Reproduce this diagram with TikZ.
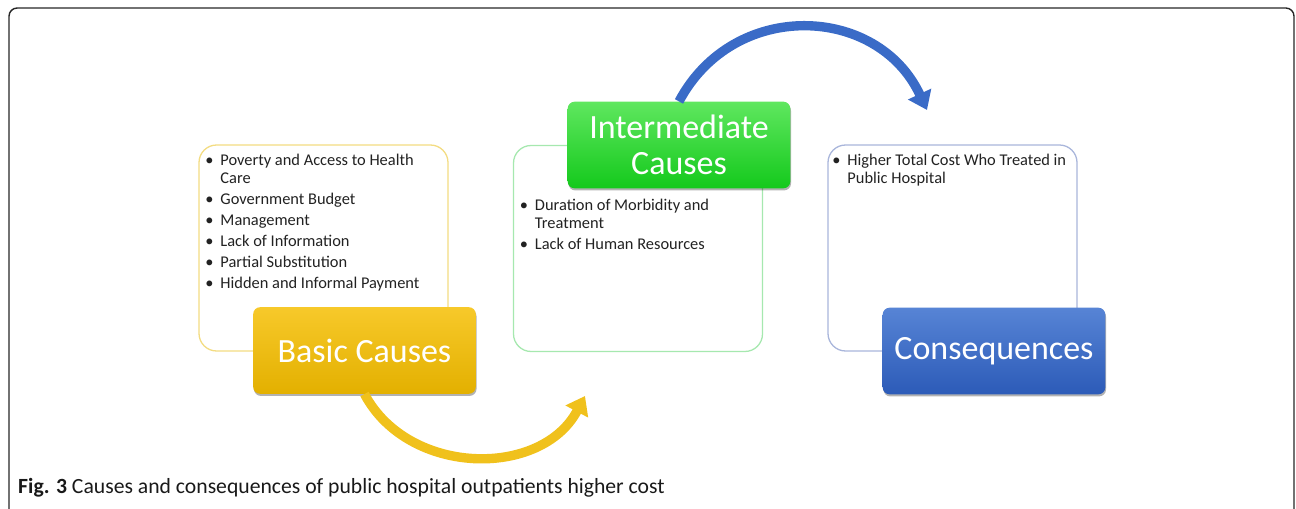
\documentclass[tikz,border=0pt]{standalone}
\usepackage{fontspec}
\setmainfont{Carlito}
\usetikzlibrary{arrows.meta,positioning,shadows}

\definecolor{goldtop}{HTML}{F7C92A}
\definecolor{goldbot}{HTML}{E3B000}
\definecolor{goldline}{HTML}{F3DC82}
\definecolor{greentop}{HTML}{5FE75F}
\definecolor{greenbot}{HTML}{14C91C}
\definecolor{greenline}{HTML}{A6E8AF}
\definecolor{bluetop}{HTML}{5784D5}
\definecolor{bluebot}{HTML}{2C5BB8}
\definecolor{blueline}{HTML}{A9B6DB}
\definecolor{bluearrow}{HTML}{3A6BC7}
\definecolor{goldarrow}{HTML}{F0C11C}
\definecolor{bodytext}{HTML}{222222}

% bullet and hanging indent for the item lists
\newcommand{\itm}{\makebox[13pt][l]{\textbullet}}
\newcommand{\cnt}{\hspace*{13pt}}

\begin{document}
\begin{tikzpicture}[
    panel/.style={draw, line width=1.1pt, rounded corners=15pt, fill=white,
                  minimum width=7.47cm, minimum height=6.18cm},
    title/.style={rounded corners=6pt, text=white, align=center,
                  minimum width=6.68cm, minimum height=2.6cm,
                  font=\fontsize{29}{30.6}\selectfont,
                  drop shadow={shadow xshift=0.6pt, shadow yshift=-1.8pt,
                               opacity=0.3, fill=black}},
    items/.style={anchor=north west, align=left, inner sep=0pt,
                  text=bodytext, font=\fontsize{14}{15.3}\selectfont},
    flow/.style={line width=8pt, -{Triangle[width=21pt,length=15pt]}}
  ]
    \useasboundingbox (0,0) rectangle (38.88,15.27);
    \draw[line width=1.2pt, rounded corners=7pt, black!85] (0.27,15.03) rectangle (38.82,-0.4);

    % content panels
    \node[panel, draw=goldline] (basicbox) at (9.705,7.83) {};
    \node[panel, draw=greenline] (midbox) at (19.14,7.815) {};
    \node[panel, draw=blueline] (conbox) at (28.575,7.83) {};

    \node[items] (basiclist) at ([xshift=0.2cm,yshift=-0.29cm]basicbox.north west)
      {\itm Poverty and Access to Health\\ \cnt Care\\[2.6pt]
       \itm Government Budget\\[2.6pt]
       \itm Management\\[2.6pt]
       \itm Lack of Information\\[2.6pt]
       \itm Partial Substitution\\[2.6pt]
       \itm Hidden and Informal Payment};
    \node[items] (midlist) at ([xshift=0.2cm,yshift=-1.62cm]midbox.north west)
      {\itm Duration of Morbidity and\\ \cnt Treatment\\[2.6pt]
       \itm Lack of Human Resources};
    \node[items] (conlist) at ([xshift=0.14cm,yshift=-0.29cm]conbox.north west)
      {\itm Higher Total Cost Who Treated in\\ \cnt Public Hospital};

    % coloured headings
    \node[title, top color=goldtop, bottom color=goldbot] (basic) at (10.935,4.755) {Basic Causes};
    \node[title, top color=greentop, bottom color=greenbot] (mid) at (20.37,10.92) {Intermediate\\Causes};
    \node[title, top color=bluetop, bottom color=bluebot] (con) at (29.82,4.74) {Consequences};

    % arrow tips
    \coordinate (ytip) at (17.55,3.39);
    \coordinate (btip) at (27.81,11.97);

    \draw[flow, goldarrow] (basic.south) to[out=-62, in=-118, looseness=1.08] (ytip);
    \draw[flow, bluearrow] (mid.north) to[out=62, in=115, looseness=1.2] (btip);

    \node[anchor=base west, inner sep=0pt, text=black!90,
          font=\fontsize{18.5}{20}\selectfont] (caption) at (0.54,0.46)
      {\textbf{Fig. 3} Causes and consequences of public hospital outpatients higher cost};
  \end{tikzpicture}
\end{document}
